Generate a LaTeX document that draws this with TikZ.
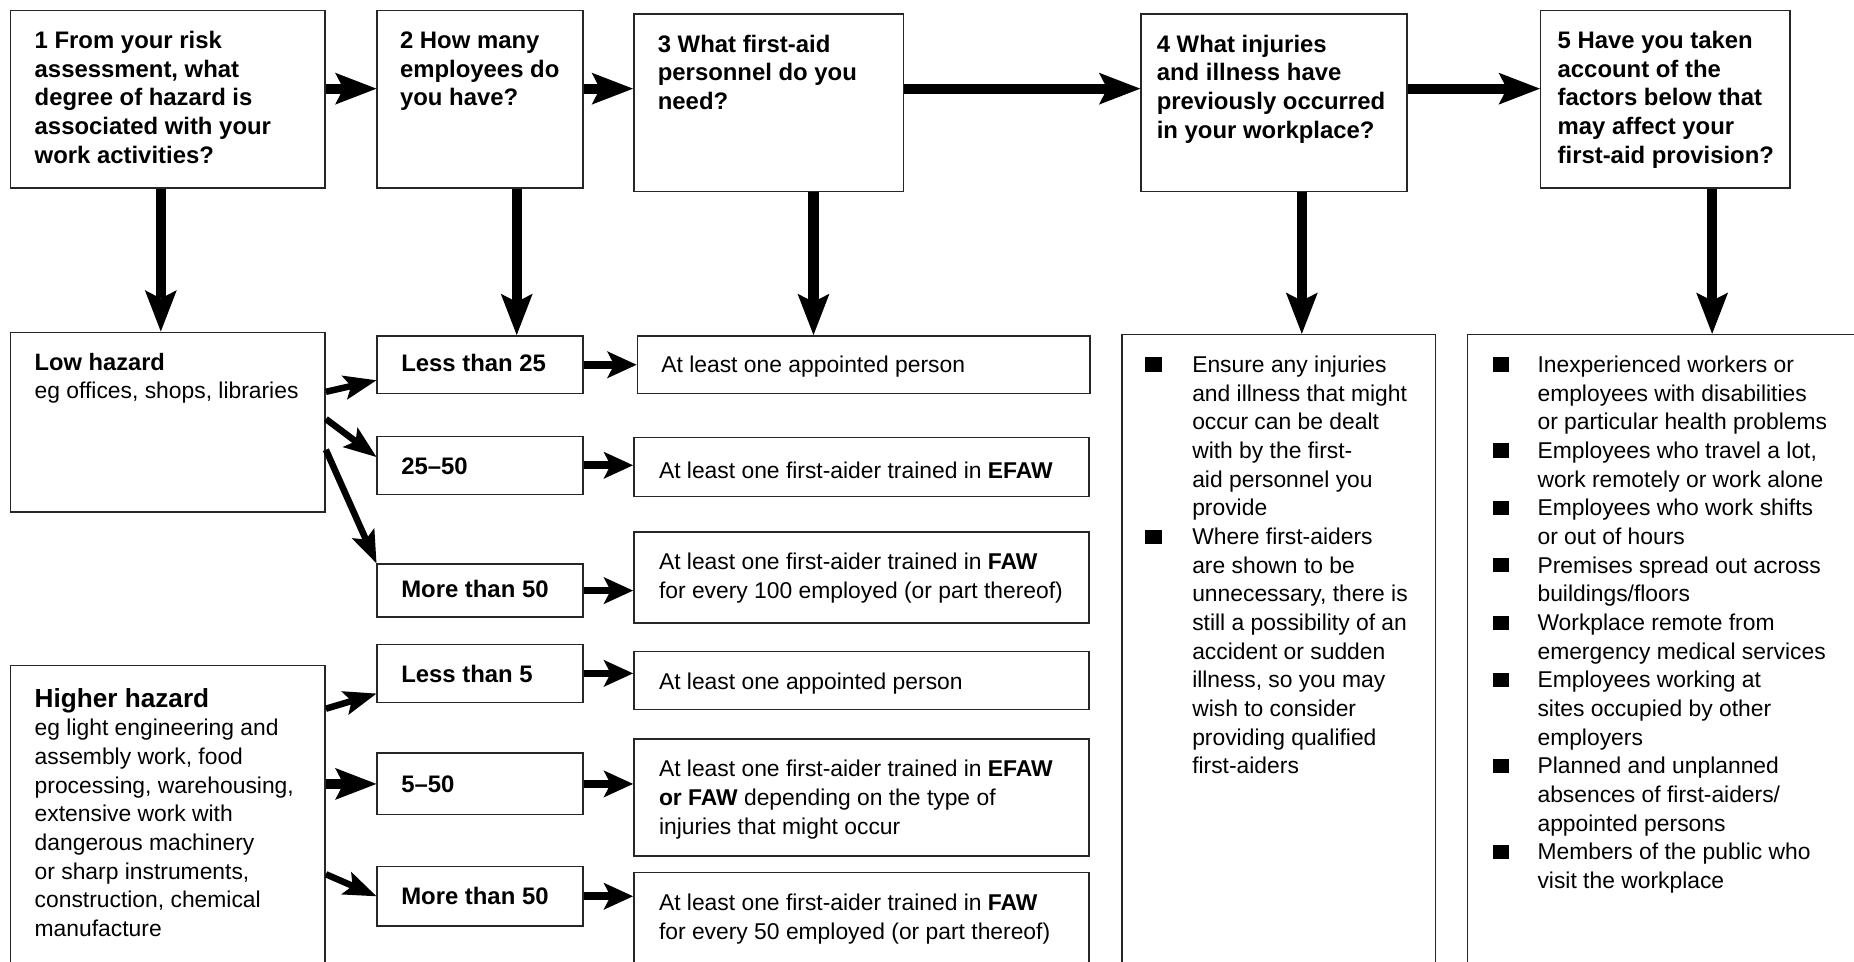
\documentclass[tikz,border=0pt]{standalone}
\usepackage{fontspec}
\setmainfont{Liberation Sans}
\usetikzlibrary{arrows.meta,calc,fit}

\tikzset{
  box/.style={draw=black!85, line width=0.7pt, inner sep=0pt},
  txt/.style={anchor=base west, inner sep=0pt, font=\fontsize{11}{13.8}\selectfont},
  head/.style={txt, font=\fontsize{11.5}{13.8}\selectfont\bfseries},
  bigarrow/.style={line width=0.17cm, -{Stealth[length=0.7cm, width=0.54cm, inset=0.14cm, line width=0pt]}},
  midarrow/.style={line width=0.13cm, -{Stealth[length=0.5cm, width=0.46cm, inset=0.12cm, line width=0pt]}},
  smallarrow/.style={line width=0.11cm, -{Stealth[length=0.56cm, width=0.42cm, inset=0.12cm, line width=0pt]}}
}
\newcommand{\bsq}{\rule[0.4pt]{8pt}{6.8pt}}
\newcommand{\txtlines}[1]{\begin{tabular}[t]{@{}l@{}}#1\end{tabular}}

\begin{document}
\begin{tikzpicture}[x=0.02cm, y=-0.02cm]
\useasboundingbox (0,0) rectangle (1568,813);
\clip (0,0) rectangle (1568,813);

\def\row{75}

% questions
\node[box, fit={(9,9) (275,159)}] (q1) {};
\node[box, fit={(319,9) (493,159)}] (q2) {};
\node[box, fit={(536,12) (764,162)}] (q3) {};
\node[box, fit={(965,12) (1190,162)}] (q4) {};
\node[box, fit={(1303,9) (1514,159)}] (q5) {};

\node[head] (q1t) at (29,41) {\txtlines{1 From your risk\\assessment, what\\degree of hazard is\\associated with your\\work activities?}};
\node[head] (q2t) at (338,41) {\txtlines{2 How many\\employees do\\you have?}};
\node[head] (q3t) at (556,44) {\txtlines{3 What first-aid\\personnel do you\\need?}};
\node[head] (q4t) at (978,44) {\txtlines{4 What injuries\\and illness have\\previously occurred\\in your workplace?}};
\node[head] (q5t) at (1317,41) {\txtlines{5 Have you taken\\account of the\\factors below that\\may affect your\\first-aid provision?}};

% hazard
\node[box, fit={(9,281) (275,433)}] (low) {};
\node[box, fit={(9,563) (275,840)}] (high) {};
\node[txt] (lowt) at (29,313) {\txtlines{{\fontsize{11.4}{13.8}\selectfont\bfseries Low hazard}\\eg offices, shops, libraries}};
\node[txt] (hight) at (29,598) {\txtlines{{\fontsize{12.6}{13.8}\selectfont\bfseries Higher hazard}\\eg light engineering and\\assembly work, food\\processing, warehousing,\\extensive work with\\dangerous machinery\\or sharp instruments,\\construction, chemical\\manufacture}};

% employees
\node[box, fit={(319,284) (493,333)}] (lt25) {};
\node[box, fit={(319,369) (493,418)}] (m2550) {};
\node[box, fit={(319,477) (493,522)}] (mt50a) {};
\node[box, fit={(319,545) (493,594)}] (lt5) {};
\node[box, fit={(319,637) (493,689)}] (m550) {};
\node[box, fit={(319,733) (493,783)}] (mt50b) {};
\node[head] at (339,314) {Less than 25};
\node[head] at (339,401) {25\textendash50};
\node[head] at (339,505) {More than 50};
\node[head] at (339,577) {Less than 5};
\node[head] at (339,670) {5\textendash50};
\node[head] at (339,765) {More than 50};

% personnel
\node[box, fit={(539,284) (922,333)}] (ap1) {};
\node[box, fit={(536,370) (921,420)}] (ef1) {};
\node[box, fit={(536,450) (921,527)}] (fa1) {};
\node[box, fit={(536,551) (921,600)}] (ap2) {};
\node[box, fit={(536,625) (921,724)}] (ef2) {};
\node[box, fit={(536,738) (921,840)}] (fa2) {};
\node[txt] at (559,315) {At least one appointed person};
\node[txt] at (557,405) {At least one first-aider trained in \textbf{EFAW}};
\node[txt] at (557,482) {\txtlines{At least one first-aider trained in \textbf{FAW}\\for every 100 employed (or part thereof)}};
\node[txt] at (557,583) {At least one appointed person};
\node[txt] at (557,657) {\txtlines{At least one first-aider trained in \textbf{EFAW}\\\textbf{or FAW} depending on the type of\\injuries that might occur}};
\node[txt] at (557,770) {\txtlines{At least one first-aider trained in \textbf{FAW}\\for every 50 employed (or part thereof)}};

% lists
\node[box, fit={(949,283) (1214,840)}] (r4) {};
\node[box, fit={(1241,283) (1600,840)}] (r5) {};
\node[txt] (r4t) at (968,315) {\begin{tabular}[t]{@{}p{0.8cm}@{}l@{}}
\bsq & Ensure any injuries\\
 & and illness that might\\
 & occur can be dealt\\
 & with by the first-\\
 & aid personnel you\\
 & provide\\
\bsq & Where first-aiders\\
 & are shown to be\\
 & unnecessary, there is\\
 & still a possibility of an\\
 & accident or sudden\\
 & illness, so you may\\
 & wish to consider\\
 & providing qualified\\
 & first-aiders
\end{tabular}};
\node[txt] (r5t) at (1262,315) {\begin{tabular}[t]{@{}p{0.76cm}@{}l@{}}
\bsq & Inexperienced workers or\\
 & employees with disabilities\\
 & or particular health problems\\
\bsq & Employees who travel a lot,\\
 & work remotely or work alone\\
\bsq & Employees who work shifts\\
 & or out of hours\\
\bsq & Premises spread out across\\
 & buildings/floors\\
\bsq & Workplace remote from\\
 & emergency medical services\\
\bsq & Employees working at\\
 & sites occupied by other\\
 & employers\\
\bsq & Planned and unplanned\\
 & absences of first-aiders/\\
 & appointed persons\\
\bsq & Members of the public who\\
 & visit the workplace
\end{tabular}};

% arrows
\coordinate (row) at (0,\row);
\draw[bigarrow] (q1.east |- row) -- (q2.west |- row);
\draw[bigarrow] (q2.east |- row) -- (q3.west |- row);
\draw[bigarrow] (q3.east |- row) -- (q4.west |- row);
\draw[bigarrow] (q4.east |- row) -- (q5.west |- row);

\foreach \q/\r/\x in {q1/low/136, q2/lt25/437, q3/ap1/688, q4/r4/1101, q5/r5/1448}{
  \coordinate (c) at (\x,0);
  \draw[bigarrow] (c |- \q.south) -- (c |- \r.north);
}

\draw[smallarrow] ($(low.north east)+(0,51)$) -- ($(lt25.south west)+(0,-12)$);
\draw[smallarrow] ($(low.north east)+(0,74)$) -- ($(m2550.west)+(0,-7)$);
\draw[smallarrow] ($(low.north east)+(0,100)$) -- (mt50a.north west);

\draw[smallarrow] ($(high.north east)+(0,37)$) -- ($(lt5.south west)+(0,-8)$);
\draw[bigarrow] (m550.west -| high.east) -- (m550.west);
\draw[smallarrow] ($(high.north east)+(0,177)$) -- (mt50b.west);

\foreach \a/\b in {lt25/ap1, m2550/ef1, mt50a/fa1, lt5/ap2, m550/ef2, mt50b/fa2}
  \draw[midarrow] (\a.east) -- (\a.east -| \b.west);

\end{tikzpicture}
\end{document}
